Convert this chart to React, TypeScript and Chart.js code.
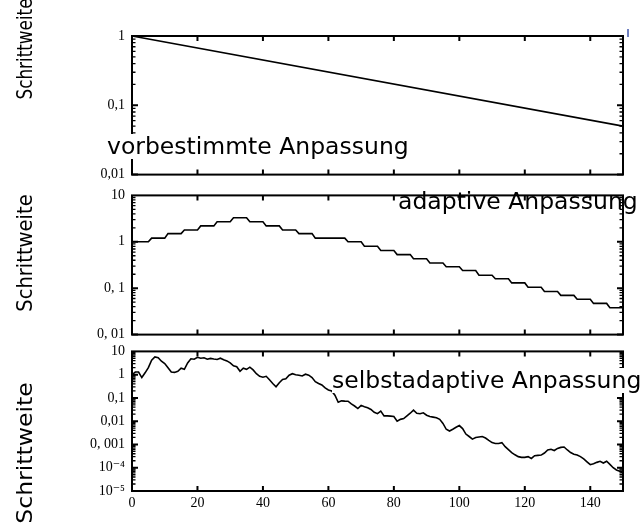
import React, { useEffect, useRef } from 'react';
import { Chart, registerables } from 'chart.js';

Chart.register(...registerables);

// ---------- data ----------
const xTickValues = [0, 20, 40, 60, 80, 100, 120, 140];

// panel 1: vorbestimmte Anpassung
const p1X = [0, 150];
const p1Y = [1, 0.05];

// panel 2: adaptive Anpassung (step size level per block of 5 generations)
const p2Levels = [
  1, 1.2, 1.5, 1.8, 2.2, 2.7, 3.3, 2.7, 2.2, 1.8,
  1.5, 1.2, 1.2, 1.0, 0.8, 0.65, 0.53, 0.43, 0.35, 0.29,
  0.24, 0.19, 0.16, 0.13, 0.105, 0.085, 0.07, 0.058, 0.047, 0.038,
];

// panel 3: selbstadaptive Anpassung
const p3Y = [
  1.0, 1.3, 1.3, 0.75, 1.2, 2.0, 4.2, 5.8, 5.4, 3.8,
  3.0, 2.0, 1.3, 1.25, 1.4, 1.9, 1.7, 3.2, 4.8, 4.6,
  5.6, 5.1, 5.3, 4.6, 5.0, 4.7, 4.5, 5.1, 4.4, 3.9,
  3.2, 2.4, 2.2, 1.4, 1.9, 1.7, 2.1, 1.6, 1.1, 0.85,
  0.78, 0.85, 0.6, 0.42, 0.3, 0.45, 0.62, 0.66, 0.95, 1.1,
  1.0, 0.95, 0.88, 1.05, 0.95, 0.75, 0.5, 0.42, 0.36, 0.27,
  0.22, 0.2, 0.13, 0.065, 0.075, 0.073, 0.072, 0.055, 0.045, 0.035,
  0.048, 0.042, 0.038, 0.032, 0.024, 0.021, 0.027, 0.017, 0.017, 0.0165,
  0.016, 0.01, 0.012, 0.013, 0.017, 0.022, 0.03, 0.022, 0.021, 0.023,
  0.018, 0.016, 0.015, 0.014, 0.012, 0.008, 0.0045, 0.0038, 0.0045, 0.0055,
  0.0065, 0.0048, 0.0028, 0.0022, 0.0017, 0.002, 0.0021, 0.0022, 0.0019, 0.0015,
  0.0012, 0.0011, 0.0011, 0.0012, 0.0008, 0.0006, 0.00045, 0.00036, 0.0003, 0.00028,
  0.00028, 0.0003, 0.00025, 0.00033, 0.00034, 0.00035, 0.00043, 0.00058, 0.00062, 0.00055,
  0.00068, 0.00075, 0.00078, 0.00058, 0.00045, 0.00038, 0.00035, 0.0003, 0.00024, 0.00018,
  0.000135, 0.00015, 0.00017, 0.00019, 0.00016, 0.00019, 0.00014, 0.0001, 0.00008, 0.00007,
  0.00006,
];

const p1TickValues = [1, 0.1, 0.01];
const p1TickLabels = ['1', '0,1', '0,01'];
const p2TickValues = [10, 1, 0.1, 0.01];
const p2TickLabels = ['10', '1', '0, 1', '0, 01'];
const p3TickValues = [10, 1, 0.1, 0.01, 0.001, 0.0001, 0.00001];
const p3TickLabels = ['10', '1', '0,1', '0,01', '0, 001', '10\u207B\u2074', '10\u207B\u2075'];

const yTitle = 'Schrittweite';
const annotations = ['vorbestimmte Anpassung', 'adaptive Anpassung', 'selbstadaptive Anpassung'];

// ---------- build points ----------
const p1Points = p1X.map((x, i) => ({ x, y: p1Y[i] }));
const p2Points: { x: number; y: number }[] = [];
for (let g = 0; g <= 150; g++) {
  const block = g <= 5 ? 0 : Math.floor((g - 1) / 5);
  p2Points.push({ x: g, y: p2Levels[block] });
}
const p3Points = p3Y.map((y, g) => ({ x: g, y }));

const SERIF = '"Liberation Serif", "DejaVu Serif", serif';
const SANS = '"DejaVu Sans", sans-serif';

const framePlugin = {
  id: 'frame',
  afterDatasetsDraw(chart: any) {
    const { ctx, chartArea } = chart;
    const { left, right, top, bottom } = chartArea;
    const xs = chart.scales.x;
    const ys = chart.scales.y;
    ctx.save();
    ctx.strokeStyle = '#000';
    ctx.lineWidth = 2;
    xTickValues.forEach((v) => {
      if (v === 0) return;
      const px = xs.getPixelForValue(v);
      ctx.beginPath();
      ctx.moveTo(px, top);
      ctx.lineTo(px, top + 5);
      ctx.moveTo(px, bottom);
      ctx.lineTo(px, bottom - 5);
      ctx.stroke();
    });
    const lo = Math.round(Math.log10(ys.min));
    const hi = Math.round(Math.log10(ys.max));
    for (let e = lo; e < hi; e++) {
      for (let m = 1; m <= 9; m++) {
        const v = m * Math.pow(10, e);
        const py = ys.getPixelForValue(v);
        const major = m === 1;
        const len = major ? 6 : 3.5;
        ctx.lineWidth = major ? 2 : 1.3;
        ctx.beginPath();
        ctx.moveTo(left, py);
        ctx.lineTo(left + len, py);
        ctx.moveTo(right, py);
        ctx.lineTo(right - len, py);
        ctx.stroke();
      }
    }
    ctx.lineWidth = 2;
    ctx.strokeRect(left, top, right - left, bottom - top);
    ctx.restore();
  },
};

type PanelProps = {
  top: number;
  height: number;
  padTop: number;
  padBottom: number;
  min: number;
  max: number;
  tickValues: number[];
  tickLabels: string[];
  showX: boolean;
  points: { x: number; y: number }[];
};

function Panel(props: PanelProps) {
  const ref = useRef<HTMLCanvasElement | null>(null);
  useEffect(() => {
    if (!ref.current) return;
    const { padTop, padBottom, min, max, tickValues, tickLabels, showX, points } = props;
    const chart = new Chart(ref.current, {
      type: 'line',
      data: {
        datasets: [
          {
            data: points,
            borderColor: '#000',
            borderWidth: 1.6,
            pointRadius: 0,
            tension: 0,
            fill: false,
          },
        ],
      },
      options: {
        animation: false,
        responsive: false,
        maintainAspectRatio: false,
        layout: { padding: { left: 0, right: 20, top: padTop, bottom: padBottom } },
        plugins: { legend: { display: false }, tooltip: { enabled: false } },
        scales: {
          x: {
            type: 'linear',
            min: 0,
            max: 150,
            display: showX,
            grid: { display: false, drawTicks: false },
            border: { display: false },
            ticks: {
              color: '#000',
              font: { family: SERIF, size: 14 },
              padding: 4,
              maxRotation: 0,
              autoSkip: false,
              callback: (v: any) => String(v),
            },
            afterBuildTicks: (s: any) => {
              s.ticks = xTickValues.map((v) => ({ value: v }));
            },
            afterFit: (s: any) => {
              s.height = showX ? 36 : 0;
            },
          },
          y: {
            type: 'logarithmic',
            min,
            max,
            grid: { display: false, drawTicks: false },
            border: { display: false },
            ticks: {
              color: '#000',
              font: { family: SERIF, size: 14 },
              padding: 7,
              autoSkip: false,
              callback: (v: any) => {
                const idx = tickValues.findIndex(
                  (t) => Math.abs(Math.log10(t) - Math.log10(Number(v))) < 1e-6
                );
                return idx >= 0 ? tickLabels[idx] : '';
              },
            },
            afterBuildTicks: (s: any) => {
              s.ticks = tickValues.map((v) => ({ value: v }));
            },
            afterFit: (s: any) => {
              s.width = 132;
            },
          },
        },
      } as any,
      plugins: [framePlugin],
    });
    return () => chart.destroy();
  }, []);
  return (
    <canvas
      ref={ref}
      width={643}
      height={props.height}
      style={{ position: 'absolute', left: 0, top: props.top, width: 643, height: props.height }}
    />
  );
}

const titleStyle = (cy: number, stretch: number): React.CSSProperties => ({
  position: 'absolute',
  left: 25,
  top: cy,
  transform: `translate(-50%, -50%) rotate(-90deg) scale(${stretch}, 1)`,
  whiteSpace: 'nowrap',
  fontFamily: SANS,
  fontSize: 21,
  lineHeight: '24px',
  color: '#000',
});

const annStyle = (left: number, top: number, lh: number, bg: boolean): React.CSSProperties => ({
  position: 'absolute',
  left,
  top,
  whiteSpace: 'nowrap',
  fontFamily: SANS,
  fontSize: 23.5,
  lineHeight: `${lh}px`,
  color: '#000',
  background: bg ? '#fff' : 'transparent',
});

export default function App() {
  return (
    <div
      style={{
        position: 'absolute',
        left: 0,
        top: 0,
        width: 643,
        height: 527,
        background: '#fff',
        overflow: 'hidden',
      }}
    >
      <Panel top={0} height={190} padTop={36} padBottom={11} min={0.01} max={1}
        tickValues={p1TickValues} tickLabels={p1TickLabels} showX={false} points={p1Points} />
      <Panel top={180} height={170} padTop={12} padBottom={15} min={0.01} max={10}
        tickValues={p2TickValues} tickLabels={p2TickLabels} showX={false} points={p2Points} />
      <Panel top={336} height={191} padTop={12} padBottom={0} min={0.00001} max={10}
        tickValues={p3TickValues} tickLabels={p3TickLabels} showX={true} points={p3Points} />
      <div style={titleStyle(49, 0.8)}>{yTitle}</div>
      <div style={titleStyle(253, 0.93)}>{yTitle}</div>
      <div style={titleStyle(453, 1.12)}>{yTitle}</div>
      <div style={annStyle(107, 134, 25, true)}>{annotations[0]}</div>
      <div style={annStyle(398, 192, 18, false)}>{annotations[1]}</div>
      <div style={annStyle(332, 368, 25, true)}>{annotations[2]}</div>
      <div style={{ position: 'absolute', left: 627, top: 29, width: 1.5, height: 8, background: '#7080c0' }} />
    </div>
  );
}
